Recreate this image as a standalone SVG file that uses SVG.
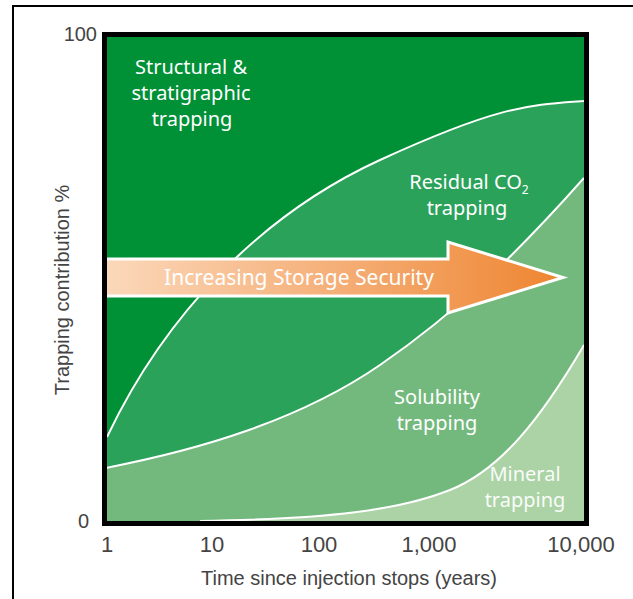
<svg xmlns="http://www.w3.org/2000/svg" width="633" height="599" viewBox="0 0 633 599">
  <defs>
    <clipPath id="plotClip"><rect x="107" y="37" width="477" height="484"/></clipPath>
    <linearGradient id="arrowGrad" x1="107" y1="0" x2="563" y2="0" gradientUnits="userSpaceOnUse">
      <stop offset="0" stop-color="#FBD8BA"/>
      <stop offset="0.5" stop-color="#F5AF78"/>
      <stop offset="1" stop-color="#EE8530"/>
    </linearGradient>
  </defs>
  <style>
    .lbl { font-family: "Noto Sans", "Open Sans", sans-serif; font-size: 20px; fill: #ffffff; text-anchor: middle; }
    .axis { font-family: "Liberation Sans", Arial, sans-serif; fill: #444444; }
    .tick { font-size: 22px; text-anchor: middle; }
    .bound { fill: none; stroke: #ffffff; stroke-width: 2; }
  </style>
  <rect x="0" y="0" width="633" height="599" fill="#ffffff"/>
  <g id="outer-frame" fill="none" stroke="#000000" stroke-width="2">
    <polyline points="13,599 13,6 633,6"/>
  </g>

  <g id="plot" clip-path="url(#plotClip)">
    <g id="structural">
      <rect x="107" y="37" width="477" height="484" fill="#009035"/>
    </g>
    <g id="residual">
      <path d="M107,437 C165,315 260,215 380,160 S530,105 584,101 L590,101 L590,530 L100,530 Z" fill="#2AA25A"/>
    </g>
    <g id="solubility">
      <path d="M107,468 C200,450 300,420 380,365 S520,250 584,178 L590,178 L590,530 L100,530 L100,468 Z" fill="#73B97E"/>
    </g>
    <g id="mineral">
      <path d="M200,521 C330,519 400,510 450,490 S540,420 584,345 L590,345 L590,530 L200,530 Z" fill="#ACD3A6"/>
    </g>
    <g id="connectors">
      <path class="bound" d="M107,437 C165,315 260,215 380,160 S530,105 584,101"/>
      <path class="bound" d="M100,469 C200,450 300,420 380,365 S520,250 584,178"/>
      <path class="bound" d="M200,521 C330,519 400,510 450,490 S540,420 584,345"/>
    </g>
    <g id="arrow">
      <polygon points="100,259 448,259 448,242 563,277.5 448,313 448,296 100,296" fill="url(#arrowGrad)" stroke="#ffffff" stroke-width="3" stroke-linejoin="miter"/>
      <text x="299" y="285" font-family="Noto Sans, Open Sans, sans-serif" font-size="21" fill="#ffffff" text-anchor="middle">Increasing Storage Security</text>
    </g>
  </g>

  <g id="labels">
    <text class="lbl" x="191" y="74">Structural &amp;</text>
    <text class="lbl" x="191" y="100">stratigraphic</text>
    <text class="lbl" x="192" y="126">trapping</text>
    <text class="lbl" x="469" y="189">Residual CO<tspan font-size="12" dy="5">2</tspan></text>
    <text class="lbl" x="467" y="215">trapping</text>
    <text class="lbl" x="437" y="404">Solubility</text>
    <text class="lbl" x="437" y="430">trapping</text>
    <text class="lbl" x="525" y="481" font-size="19" fill-opacity="0.95">Mineral</text>
    <text class="lbl" x="525" y="507" font-size="19" fill-opacity="0.95">trapping</text>
  </g>

  <g id="plot-frame">
    <rect x="104.5" y="34.5" width="482" height="489" fill="none" stroke="#000000" stroke-width="5"/>
  </g>

  <g id="axes" class="axis">
    <text x="97" y="41" font-size="20" text-anchor="end">100</text>
    <text x="89" y="528" font-size="20" text-anchor="end">0</text>
    <text class="tick" x="107" y="552">1</text>
    <text class="tick" x="212" y="552">10</text>
    <text class="tick" x="319" y="552">100</text>
    <text class="tick" x="429" y="552">1,000</text>
    <text class="tick" x="581" y="552">10,000</text>
    <text x="349" y="585" font-size="20" text-anchor="middle">Time since injection stops (years)</text>
    <text transform="translate(69,290) rotate(-90)" font-size="20" text-anchor="middle">Trapping contribution %</text>
  </g>
</svg>
